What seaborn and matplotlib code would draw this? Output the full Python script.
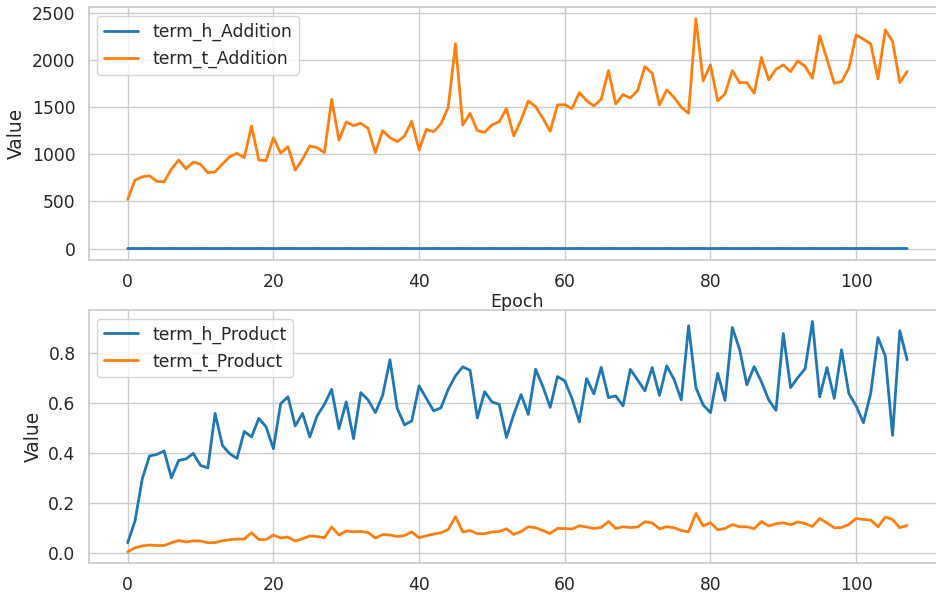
import matplotlib
matplotlib.use("Agg")
import matplotlib.pyplot as plt
import pandas as pd
import seaborn as sns

epochs = list(range(108))

term_h_addition = [0.6, 0.5, 0.5, 0.6, 0.5, 0.5, 0.6, 0.5, 0.5, 0.5,
                   0.6, 0.5, 0.5, 0.5, 0.6, 0.5, 0.5, 0.5, 0.6, 0.5,
                   0.5, 0.5, 0.6, 0.5, 0.5, 0.5, 0.6, 0.5, 0.5, 0.5,
                   0.6, 0.5, 0.5, 0.5, 0.6, 0.5, 0.5, 0.5, 0.6, 0.5,
                   0.5, 0.5, 0.6, 0.5, 0.5, 0.5, 0.6, 0.5, 0.5, 0.5,
                   0.6, 0.5, 0.5, 0.5, 0.6, 0.5, 0.5, 0.5, 0.6, 0.5,
                   0.5, 0.5, 0.6, 0.5, 0.5, 0.5, 0.6, 0.5, 0.5, 0.5,
                   0.6, 0.5, 0.5, 0.5, 0.6, 0.5, 0.5, 0.5, 0.6, 0.5,
                   0.5, 0.5, 0.6, 0.5, 0.5, 0.5, 0.6, 0.5, 0.5, 0.5,
                   0.6, 0.5, 0.5, 0.5, 0.6, 0.5, 0.5, 0.5, 0.6, 0.5,
                   0.5, 0.5, 0.6, 0.5, 0.5, 0.5, 0.6, 0.5]

term_t_addition = [521, 727, 762, 773, 713, 709, 844, 940, 847, 918,
                   894, 805, 815, 897, 975, 1011, 965, 1301, 940, 933,
                   1177, 1014, 1081, 833, 950, 1089, 1071, 1018, 1585, 1152,
                   1344, 1305, 1330, 1277, 1018, 1252, 1177, 1135, 1195, 1351,
                   1046, 1266, 1241, 1323, 1500, 2174, 1312, 1436, 1252, 1234,
                   1312, 1347, 1486, 1195, 1365, 1567, 1507, 1383, 1245, 1525,
                   1528, 1486, 1656, 1571, 1514, 1585, 1890, 1535, 1635, 1599,
                   1677, 1933, 1862, 1525, 1684, 1606, 1500, 1436, 2440, 1780,
                   1950, 1567, 1642, 1890, 1762, 1762, 1649, 2028, 1791, 1904,
                   1950, 1879, 1993, 1933, 1808, 2259, 2011, 1755, 1773, 1915,
                   2269, 2223, 2174, 1801, 2323, 2199, 1762, 1879]

term_h_product = [0.040, 0.127, 0.296, 0.387, 0.393, 0.407, 0.300, 0.369, 0.375, 0.397,
                  0.349, 0.339, 0.557, 0.429, 0.396, 0.377, 0.485, 0.463, 0.537, 0.503,
                  0.416, 0.596, 0.623, 0.507, 0.557, 0.463, 0.547, 0.593, 0.653, 0.496,
                  0.603, 0.456, 0.640, 0.611, 0.560, 0.629, 0.771, 0.577, 0.511, 0.527,
                  0.667, 0.617, 0.567, 0.579, 0.653, 0.707, 0.743, 0.729, 0.539, 0.644,
                  0.603, 0.593, 0.461, 0.553, 0.632, 0.553, 0.733, 0.664, 0.581, 0.704,
                  0.687, 0.616, 0.523, 0.696, 0.635, 0.741, 0.620, 0.627, 0.587, 0.733,
                  0.691, 0.647, 0.740, 0.629, 0.747, 0.693, 0.611, 0.907, 0.660, 0.591,
                  0.560, 0.717, 0.609, 0.900, 0.813, 0.671, 0.744, 0.683, 0.611, 0.569,
                  0.876, 0.660, 0.700, 0.736, 0.924, 0.623, 0.740, 0.617, 0.811, 0.636,
                  0.587, 0.520, 0.637, 0.860, 0.787, 0.469, 0.887, 0.771]

term_t_product = [0.004, 0.020, 0.027, 0.031, 0.029, 0.029, 0.040, 0.049, 0.043, 0.048,
                  0.047, 0.040, 0.041, 0.048, 0.052, 0.055, 0.055, 0.080, 0.053, 0.053,
                  0.071, 0.059, 0.063, 0.047, 0.056, 0.067, 0.065, 0.060, 0.103, 0.071,
                  0.087, 0.084, 0.085, 0.081, 0.059, 0.073, 0.071, 0.065, 0.069, 0.083,
                  0.060, 0.068, 0.075, 0.080, 0.093, 0.144, 0.083, 0.089, 0.076, 0.076,
                  0.083, 0.085, 0.096, 0.073, 0.085, 0.104, 0.100, 0.089, 0.077, 0.097,
                  0.097, 0.095, 0.108, 0.103, 0.097, 0.101, 0.125, 0.097, 0.104, 0.101,
                  0.103, 0.124, 0.119, 0.096, 0.104, 0.100, 0.089, 0.084, 0.157, 0.107,
                  0.120, 0.092, 0.097, 0.113, 0.104, 0.104, 0.096, 0.125, 0.107, 0.116,
                  0.120, 0.112, 0.123, 0.117, 0.105, 0.137, 0.119, 0.100, 0.101, 0.113,
                  0.137, 0.133, 0.131, 0.104, 0.143, 0.133, 0.100, 0.109]

sns.set_theme(style="whitegrid", context="notebook", font_scale=1.12)
plt.rcParams['font.family'] = ['DejaVu Sans']

# long form tables for seaborn
add_df = pd.DataFrame({
    "Epoch": epochs * 2,
    "Value": term_h_addition + term_t_addition,
    "term": ["term_h_Addition"] * 108 + ["term_t_Addition"] * 108,
})
prod_df = pd.DataFrame({
    "Epoch": epochs * 2,
    "Value": term_h_product + term_t_product,
    "term": ["term_h_Product"] * 108 + ["term_t_Product"] * 108,
})

colors = ["#1f77b4", "#ff7f0e"]

fig = plt.figure(figsize=(9.37, 5.93), dpi=100)
ax1 = fig.add_axes([0.0947, 0.5616, 0.915, 0.4261])
ax2 = fig.add_axes([0.0947, 0.0501, 0.915, 0.4271])
ax1.set_zorder(2)  # keep the Epoch label on top of the lower panel

sns.lineplot(data=add_df, x="Epoch", y="Value", hue="term", palette=colors, ax=ax1, linewidth=2)
sns.lineplot(data=prod_df, x="Epoch", y="Value", hue="term", palette=colors, ax=ax2, linewidth=2)

ax1.legend(loc="upper left", title=None)
ax2.legend(loc="upper left", title=None)
ax1.set_xlabel("Epoch", fontsize=12.5, labelpad=1)
ax2.set_xlabel("")
ax1.set_yticks([0, 500, 1000, 1500, 2000, 2500])
ax2.set_yticks([0.0, 0.2, 0.4, 0.6, 0.8])

plt.savefig("out.png", dpi=100)
